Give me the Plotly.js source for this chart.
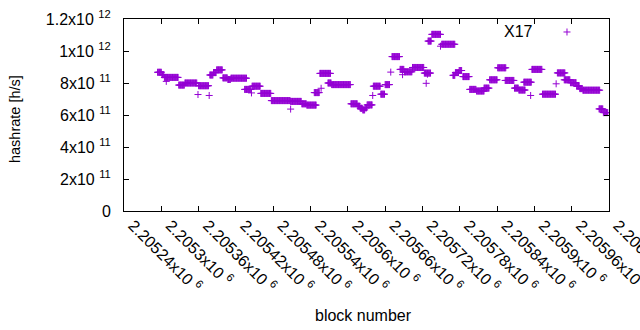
<!DOCTYPE html>
<html><head><meta charset="utf-8">
<script src="https://cdn.plot.ly/plotly-3.0.1.min.js"></script>
<style>html,body{margin:0;padding:0;background:#fff}</style>
</head><body><div id="chart" style="width:640px;height:330px"></div>
<script>
// Plateaus of hashrate: block range start..end (inclusive) and value in h/s
const segStart = [
  2205294,2205301,2205308,2205305,2205328,2205338,2205359,2205360,2205377,2205378,
  2205384,2205389,2205399,2205407,2205412,2205434,2205445,2205446,2205460,2205477,
  2205508,2205508,2205526,2205534,2205546,2205557,2205555,2205568,2205574,2205605,
  2205616,2205620,2205624,2205628,2205631,2205640,2205641,2205653,2205660,2205669,
  2205671,2205684,2205688,2205691,2205704,2205723,2205728,2205726,2205729,2205735,
  2205749,2205751,2205769,2205773,2205779,2205785,2205796,2205807,2205819,2205828,
  2205841,2205853,2205868,2205875,2205883,2205894,2205896,2205913,2205935,2205937,
  2205948,2205958,2205968,2205973,2205978,2206004,2206011];
const segEnd = [
  2205300,2205304,2205308,2205327,2205337,2205357,2205359,2205376,2205377,2205383,
  2205388,2205398,2205406,2205411,2205437,2205444,2205445,2205459,2205476,2205507,
  2205508,2205525,2205533,2205549,2205554,2205557,2205572,2205573,2205604,2205615,
  2205619,2205623,2205627,2205630,2205639,2205640,2205652,2205659,2205667,2205669,
  2205683,2205690,2205688,2205703,2205722,2205733,2205728,2205726,2205734,2205749,
  2205749,2205772,2205772,2205778,2205783,2205795,2205806,2205819,2205827,2205840,
  2205854,2205867,2205874,2205885,2205895,2205894,2205912,2205934,2205935,2205949,
  2205957,2205967,2205972,2205977,2206005,2206010,2206018];
const segValue = [
  8.67e11,8.52e11,8.10e11,8.35e11,7.87e11,8.00e11,7.28e11,7.83e11,7.22e11,8.50e11,
  8.65e11,8.82e11,8.32e11,8.22e11,8.30e11,7.60e11,7.38e11,7.80e11,7.35e11,6.90e11,
  6.37e11,6.85e11,6.70e11,6.62e11,7.40e11,7.67e11,8.60e11,8.00e11,7.90e11,6.70e11,
  6.55e11,6.42e11,6.32e11,6.45e11,6.63e11,7.22e11,7.80e11,7.30e11,7.90e11,8.68e11,
  9.65e11,8.85e11,8.52e11,8.70e11,8.97e11,8.62e11,8.55e11,7.98e11,10.62e11,11.04e11,
  10.30e11,10.42e11,8.48e11,8.65e11,8.78e11,8.40e11,7.60e11,7.50e11,7.68e11,8.20e11,
  8.95e11,8.16e11,7.68e11,7.56e11,8.05e11,7.22e11,8.85e11,7.30e11,7.95e11,8.63e11,
  8.20e11,8.02e11,7.80e11,7.65e11,7.55e11,6.38e11,6.15e11];

const xTickVals = [2205240,2205300,2205360,2205420,2205480,2205540,2205600,2205660,2205720,2205780,2205840,2205900,2205960,2206020];
const xTickText = ['2.20524x10 <sup>6</sup>','2.2053x10 <sup>6</sup>','2.20536x10 <sup>6</sup>','2.20542x10 <sup>6</sup>','2.20548x10 <sup>6</sup>','2.20554x10 <sup>6</sup>','2.2056x10 <sup>6</sup>','2.20566x10 <sup>6</sup>','2.20572x10 <sup>6</sup>','2.20578x10 <sup>6</sup>','2.20584x10 <sup>6</sup>','2.2059x10 <sup>6</sup>','2.20596x10 <sup>6</sup>','2.20602x10 <sup>6</sup>'];
const yTickVals = [0,2e11,4e11,6e11,8e11,1e12,1.2e12];
const yTickText = ['0','2x10 <sup>11</sup>','4x10 <sup>11</sup>','6x10 <sup>11</sup>','8x10 <sup>11</sup>','1x10 <sup>12</sup>','1.2x10 <sup>12</sup>'];
const seriesName = 'X17';

// one point per block inside each plateau range
const xs = [], ys = [];
for (let i = 0; i < segStart.length; i++) {
  for (let b = segStart[i]; b <= segEnd[i]; b++) { xs.push(b); ys.push(segValue[i]); }
}

const purple = '#9400d3';
const FONT = 'Liberation Sans, Arial, sans-serif';
const trace = {
  type: 'scatter', mode: 'markers', x: xs, y: ys, name: seriesName,
  marker: {symbol: 'cross-thin', size: 5, color: purple, line: {color: purple, width: 1}},
  hoverinfo: 'skip'
};

const axisCommon = {
  ticks: 'inside', ticklen: 5, tickcolor: '#000', tickwidth: 1,
  showline: true, linecolor: '#000', linewidth: 1, mirror: 'ticks',
  showgrid: false, zeroline: false, fixedrange: true,
  tickfont: {family: FONT, size: 16, color: '#000'}
};

const layout = {
  width: 640, height: 330,
  margin: {l: 124, r: 31, t: 19, b: 119, pad: 0},
  paper_bgcolor: '#fff', plot_bgcolor: '#fff',
  showlegend: false,
  font: {family: FONT, size: 16, color: '#000'},
  xaxis: Object.assign({}, axisCommon, {
    range: [2205240, 2206020], tickmode: 'array', tickvals: xTickVals, ticktext: xTickText,
    tickangle: 45, ticklabelshift: 9, ticklabelstandoff: -2, ticklabeloverflow: 'allow'
  }),
  yaxis: Object.assign({}, axisCommon, {
    range: [0, 1.2e12], tickmode: 'array', tickvals: yTickVals, ticktext: yTickText,
    ticklabelstandoff: 9
  }),
  annotations: [
    {text: 'hashrate [h/s]', xref: 'paper', yref: 'paper', x: -0.2247, y: 0.479, textangle: -90,
     showarrow: false, xanchor: 'center', yanchor: 'middle', font: {size: 14.5, color: '#000'}},
    {text: 'block number', xref: 'paper', yref: 'paper', x: 0.4948, y: -0.5417,
     showarrow: false, xanchor: 'center', yanchor: 'middle', font: {size: 16, color: '#000'}},
    {text: seriesName, xref: 'paper', yref: 'paper', x: 0.8474, y: 0.9323,
     showarrow: false, xanchor: 'right', yanchor: 'middle', font: {size: 16, color: '#000'}}
  ],
  shapes: [
    {type: 'path', xref: 'paper', yref: 'paper', xsizemode: 'pixel', ysizemode: 'pixel',
     xanchor: 0.9134, yanchor: 0.9323, path: 'M-3.5,0H3.5M0,-3.5V3.5',
     line: {color: purple, width: 1}}
  ]
};

Plotly.newPlot('chart', [trace], layout, {displayModeBar: false, staticPlot: true});
</script></body></html>
